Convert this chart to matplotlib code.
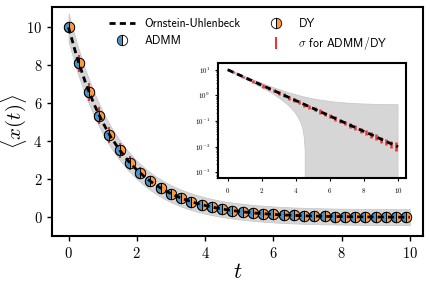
import matplotlib.pyplot as plt
import numpy as np

plt.rcParams['font.family'] = 'serif'
plt.rcParams['font.serif'] = ['cmr10']
plt.rcParams['mathtext.fontset'] = 'cm'
plt.rcParams['axes.unicode_minus'] = False
plt.rcParams['axes.formatter.use_mathtext'] = True

# band / reference curve
band_t = [0, 0.25, 0.5, 0.75, 1, 1.25, 1.5, 1.75, 2, 2.25, 2.5, 2.75, 3, 3.25, 3.5,
          3.75, 4, 4.25, 4.4, 4.5, 4.55, 4.6, 4.75, 5, 5.5, 6, 6.5, 7, 7.5, 8, 8.5,
          9, 9.5, 10]
ou_mean = [10, 8.41, 7.07, 5.95, 5.0, 4.20, 3.54, 2.97, 2.5, 2.10, 1.77, 1.49, 1.25,
           1.05, 0.884, 0.743, 0.625, 0.526, 0.474, 0.442, 0.427, 0.412, 0.372,
           0.3125, 0.221, 0.156, 0.110, 0.078, 0.055, 0.039, 0.028, 0.0195, 0.0138,
           0.0098]
ou_std = [0.75, 0.72, 0.67, 0.62, 0.58, 0.55, 0.52, 0.50, 0.48, 0.47, 0.46, 0.455,
          0.45, 0.445, 0.44, 0.435, 0.43, 0.425, 0.42, 0.42, 0.42, 0.42, 0.42, 0.42,
          0.42, 0.42, 0.42, 0.42, 0.42, 0.42, 0.42, 0.42, 0.42, 0.42]

# sampled points
t_pts = [0, 0.3, 0.6, 0.9, 1.2, 1.5, 1.8, 2.1, 2.4, 2.7, 3.0, 3.3, 3.6, 3.9, 4.2,
         4.5, 4.8, 5.1, 5.4, 5.7, 6.0, 6.3, 6.6, 6.9, 7.2, 7.5, 7.8, 8.1, 8.4, 8.7,
         9.0, 9.3, 9.6, 9.9]
admm = [10, 8.12, 6.60, 5.36, 4.35, 3.54, 2.87, 2.33, 1.89, 1.54, 1.25, 1.02, 0.825,
        0.670, 0.544, 0.442, 0.359, 0.292, 0.237, 0.192, 0.156, 0.127, 0.103, 0.0837,
        0.068, 0.0552, 0.0449, 0.0364, 0.0296, 0.0240, 0.0195, 0.0159, 0.0129, 0.0105]
dy = [10, 8.12, 6.60, 5.36, 4.35, 3.54, 2.87, 2.33, 1.89, 1.54, 1.25, 1.02, 0.825,
      0.670, 0.544, 0.442, 0.359, 0.292, 0.237, 0.192, 0.156, 0.127, 0.103, 0.0837,
      0.068, 0.0552, 0.0449, 0.0364, 0.0296, 0.0240, 0.0195, 0.0159, 0.0129, 0.0105]
sigma = [0, 0.45, 0.45, 0.45, 0.42, 0.40, 0.38, 0.33, 0.28, 0.24, 0.20, 0.17, 0.14,
         0.12, 0.10, 0.08, 0.065, 0.052, 0.043, 0.035, 0.029, 0.024, 0.020, 0.017,
         0.014, 0.012, 0.010, 0.0085, 0.0072, 0.0060, 0.0052, 0.0046, 0.0042, 0.0040]

blue = '#4c92c3'
orange = '#ff983e'
red = '#e5383b'
grey = '#d6d6d6'

lo = np.array(ou_mean) - np.array(ou_std)
hi = np.array(ou_mean) + np.array(ou_std)

fig = plt.figure(figsize=(4.31, 2.84), dpi=100)
ax = fig.add_axes([0.121, 0.169, 0.860, 0.806])

ax.fill_between(band_t, lo, hi, color=grey, edgecolor='#c4c4c4', lw=0.5, zorder=1)
err = ax.errorbar(t_pts, admm, yerr=sigma, fmt='none', ecolor=red, elinewidth=1.5,
                  capsize=0, zorder=2, label=r'$\sigma$ for ADMM/DY')
l_admm, = ax.plot(t_pts, admm, 'o', ms=7.5, fillstyle='left', mfc=blue, mfcalt='none',
                  mec='k', mew=0.6, zorder=3, label='ADMM')
l_dy, = ax.plot(t_pts, dy, 'o', ms=7.5, fillstyle='right', mfc=orange, mfcalt='none',
                mec='k', mew=0.6, zorder=3, label='DY')
l_ou, = ax.plot(band_t, ou_mean, color='k', lw=2, ls=(0, (2.2, 1.5)), zorder=4,
                label='Ornstein-Uhlenbeck')

ax.set_xlim(-0.48, 10.38)
ax.set_ylim(-0.98, 11.07)
ax.set_xticks([0, 2, 4, 6, 8, 10])
ax.set_yticks([0, 2, 4, 6, 8, 10])
ax.tick_params(labelsize=10.5, width=1, length=3.5)
for s in ax.spines.values():
    s.set_linewidth(1.5)
ax.set_xlabel(r'$t$', fontsize=16, labelpad=1)
ax.set_ylabel(r'$\langle x(t) \rangle$', fontsize=15)
ax.yaxis.set_label_coords(-0.062, 0.5)

leg = ax.legend([l_ou, l_admm, l_dy, err],
                ['Ornstein-Uhlenbeck', 'ADMM', 'DY', r'$\sigma$ for ADMM/DY'],
                ncol=2, frameon=False, loc='upper left', bbox_to_anchor=(0.125, 1.0),
                prop={'family': 'cmss10', 'size': 8.5}, handlelength=2.2,
                handletextpad=0.8, columnspacing=1.9, labelspacing=0.45)

# inset on log scale
ax_in = fig.add_axes([0.5065, 0.373, 0.4348, 0.405])
ax_in.set_yscale('log', nonpositive='clip')
ax_in.fill_between(band_t, lo, hi, color=grey, edgecolor='#c4c4c4', lw=0.5, zorder=1)
ax_in.errorbar(t_pts, admm, yerr=sigma, fmt='none', ecolor=red, elinewidth=1.8,
               capsize=0, zorder=2)
ax_in.plot(band_t, ou_mean, color='k', lw=2, ls=(0, (2.2, 1.5)), zorder=4)
ax_in.set_xlim(-0.55, 10.45)
ax_in.set_ylim(5.9e-4, 18.2)
ax_in.set_xticks([0, 2, 4, 6, 8, 10])
ax_in.set_yticks([1e-3, 1e-2, 1e-1, 1e0, 1e1])
ax_in.tick_params(labelsize=5, width=0.8, length=2.5)
ax_in.tick_params(which='minor', width=0.5, length=1.5)
for s in ax_in.spines.values():
    s.set_linewidth(1.5)

fig.savefig('out.png', dpi=100)
